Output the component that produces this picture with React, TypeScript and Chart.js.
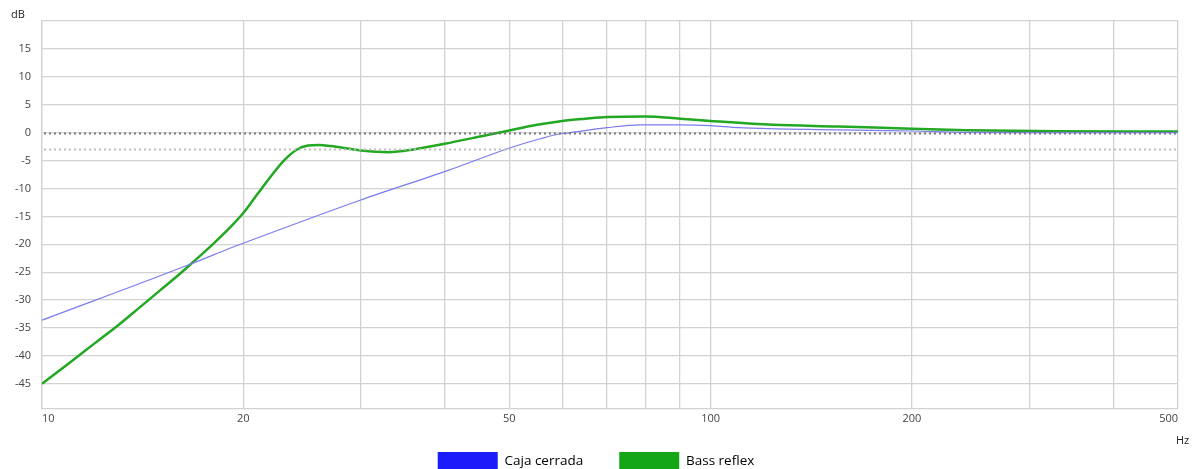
import { useEffect, useRef } from 'react';
import { Chart, registerables } from 'chart.js';

Chart.register(...registerables);

// ---- data ----
const seriesNames = ['Caja cerrada', 'Bass reflex'];

const closedFreq = [10, 16.8, 19.1, 20, 29.9, 40.4, 50.2, 55.6, 59.6, 61.7, 70, 78.6, 90, 100, 110, 155, 174, 200, 241, 330, 500];
const closedDb = [-33.6, -23.4, -20.7, -19.8, -12.1, -6.8, -2.7, -1.1, -0.2, 0, 0.9, 1.4, 1.4, 1.25, 0.9, 0.5, 0.4, 0.3, 0.05, 0, 0];

const reflexFreq = [10, 11, 12, 13, 14, 15, 16, 17, 18, 19, 20, 21, 22, 23, 24, 25, 26, 27, 30, 33, 36, 40, 46, 50, 55, 60, 65, 70, 80, 90, 100, 124, 155, 200, 241, 330, 500];
const reflexDb = [-45, -41.2, -37.7, -34.5, -31.3, -28.3, -25.5, -22.7, -20.0, -17.3, -14.4, -11.0, -7.8, -5.0, -3.1, -2.3, -2.2, -2.4, -3.2, -3.5, -3.0, -2.0, -0.5, 0.4, 1.4, 2.1, 2.5, 2.8, 2.9, 2.5, 2.1, 1.4, 1.1, 0.7, 0.45, 0.25, 0.2];

const xTickValues = [10, 20, 30, 40, 50, 60, 70, 80, 90, 100, 200, 300, 400, 500];
const xTickLabels = [10, 20, 50, 100, 200, 500];
const yTickValues = [-45, -40, -35, -30, -25, -20, -15, -10, -5, 0, 5, 10, 15, 20];
const yTickLabels = [-45, -40, -35, -30, -25, -20, -15, -10, -5, 0, 5, 10, 15];
const refLineValues = [0, -3];
const yUnit = 'dB';
const xUnit = 'Hz';

// ---- styles ----
const FONT = "'Open Sans', 'Noto Sans', sans-serif";
const lineColors = ['#7b7bef', '#22a822'];
const legendColors = ['#1c1cfa', '#14a614'];
const refColors = ['#7a7a7a', '#bdbdbd'];
const gridColor = '#d2d2d2';

const overlayPlugin = {
  id: 'overlay',
  afterLayout(chart: any) {
    const lg = chart.legend;
    if (lg) {
      lg.top -= 13;
      lg.bottom -= 13;
      lg.left += 7;
      lg.right += 7;
    }
  },
  afterDatasetsDraw(chart: any) {
    const { ctx, chartArea, scales } = chart;
    const y = scales.y;
    refLineValues.forEach((v, i) => {
      const py = Math.round(y.getPixelForValue(v)) + 0.5;
      ctx.save();
      ctx.strokeStyle = refColors[i];
      ctx.lineWidth = 2;
      ctx.setLineDash([2, 3]);
      ctx.beginPath();
      ctx.moveTo(chartArea.left + 2, py);
      ctx.lineTo(chartArea.right, py);
      ctx.stroke();
      ctx.restore();
    });
  },
  afterDraw(chart: any) {
    const { ctx } = chart;
    ctx.save();
    ctx.fillStyle = '#222';
    ctx.font = `11px ${FONT}`;
    ctx.textBaseline = 'middle';
    ctx.textAlign = 'left';
    ctx.fillText(yUnit, 11, 15);
    ctx.fillText(xUnit, 1176, 441);
    ctx.restore();
  },
};

export default function App() {
  const ref = useRef<HTMLCanvasElement>(null);

  useEffect(() => {
    if (!ref.current) return;
    const chart = new Chart(ref.current, {
      type: 'line',
      data: {
        datasets: [
          {
            label: seriesNames[0],
            data: closedFreq.map((f, i) => ({ x: f, y: closedDb[i] })),
            borderColor: lineColors[0],
            backgroundColor: lineColors[0],
            borderWidth: 1.2,
            pointRadius: 0,
            cubicInterpolationMode: 'monotone',
          },
          {
            label: seriesNames[1],
            data: reflexFreq.map((f, i) => ({ x: f, y: reflexDb[i] })),
            borderColor: lineColors[1],
            backgroundColor: lineColors[1],
            borderWidth: 2.5,
            pointRadius: 0,
            cubicInterpolationMode: 'monotone',
          },
        ],
      },
      options: {
        animation: false,
        responsive: false,
        layout: { padding: { top: 21, right: 19, left: 0, bottom: -24 } },
        plugins: {
          tooltip: { enabled: false },
          legend: {
            position: 'bottom',
            labels: {
              boxWidth: 60,
              boxHeight: 18,
              padding: 36,
              color: '#222',
              font: { size: 13.5, family: FONT },
              generateLabels: (c: any) =>
                c.data.datasets.map((ds: any, i: number) => ({
                  text: ds.label,
                  fillStyle: legendColors[i],
                  strokeStyle: legendColors[i],
                  lineWidth: 0,
                  hidden: false,
                  datasetIndex: i,
                })),
            },
          },
        },
        scales: {
          x: {
            type: 'logarithmic',
            min: 10,
            max: 500,
            afterBuildTicks: (s: any) => {
              s.ticks = xTickValues.map((v) => ({ value: v }));
            },
            afterFit: (s: any) => {
              s.height = 20;
            },
            ticks: {
              autoSkip: false,
              maxRotation: 0,
              align: 'inner',
              padding: 3,
              color: '#444',
              font: { size: 11, family: FONT },
              callback: (v: any) => (xTickLabels.includes(Number(v)) ? String(v) : ''),
            },
            grid: { color: gridColor, lineWidth: 1.3, drawTicks: false },
            border: { color: gridColor, width: 1.3 },
          },
          y: {
            type: 'linear',
            min: -49.5,
            max: 20,
            afterBuildTicks: (s: any) => {
              s.ticks = yTickValues.map((v) => ({ value: v }));
            },
            afterFit: (s: any) => {
              s.width = 42;
            },
            ticks: {
              padding: 11,
              color: '#444',
              font: { size: 11, family: FONT },
              callback: (v: any) => (yTickLabels.includes(Number(v)) ? String(v) : ''),
            },
            grid: { color: gridColor, lineWidth: 1.3, drawTicks: false },
            border: { color: gridColor, width: 1.3 },
          },
        },
      },
      plugins: [overlayPlugin],
    } as any);
    return () => chart.destroy();
  }, []);

  return (
    <div style={{ position: 'fixed', left: 0, top: 0, width: 1197, height: 469, background: '#fff' }}>
      <canvas ref={ref} width={1197} height={469} style={{ display: 'block' }} />
    </div>
  );
}
